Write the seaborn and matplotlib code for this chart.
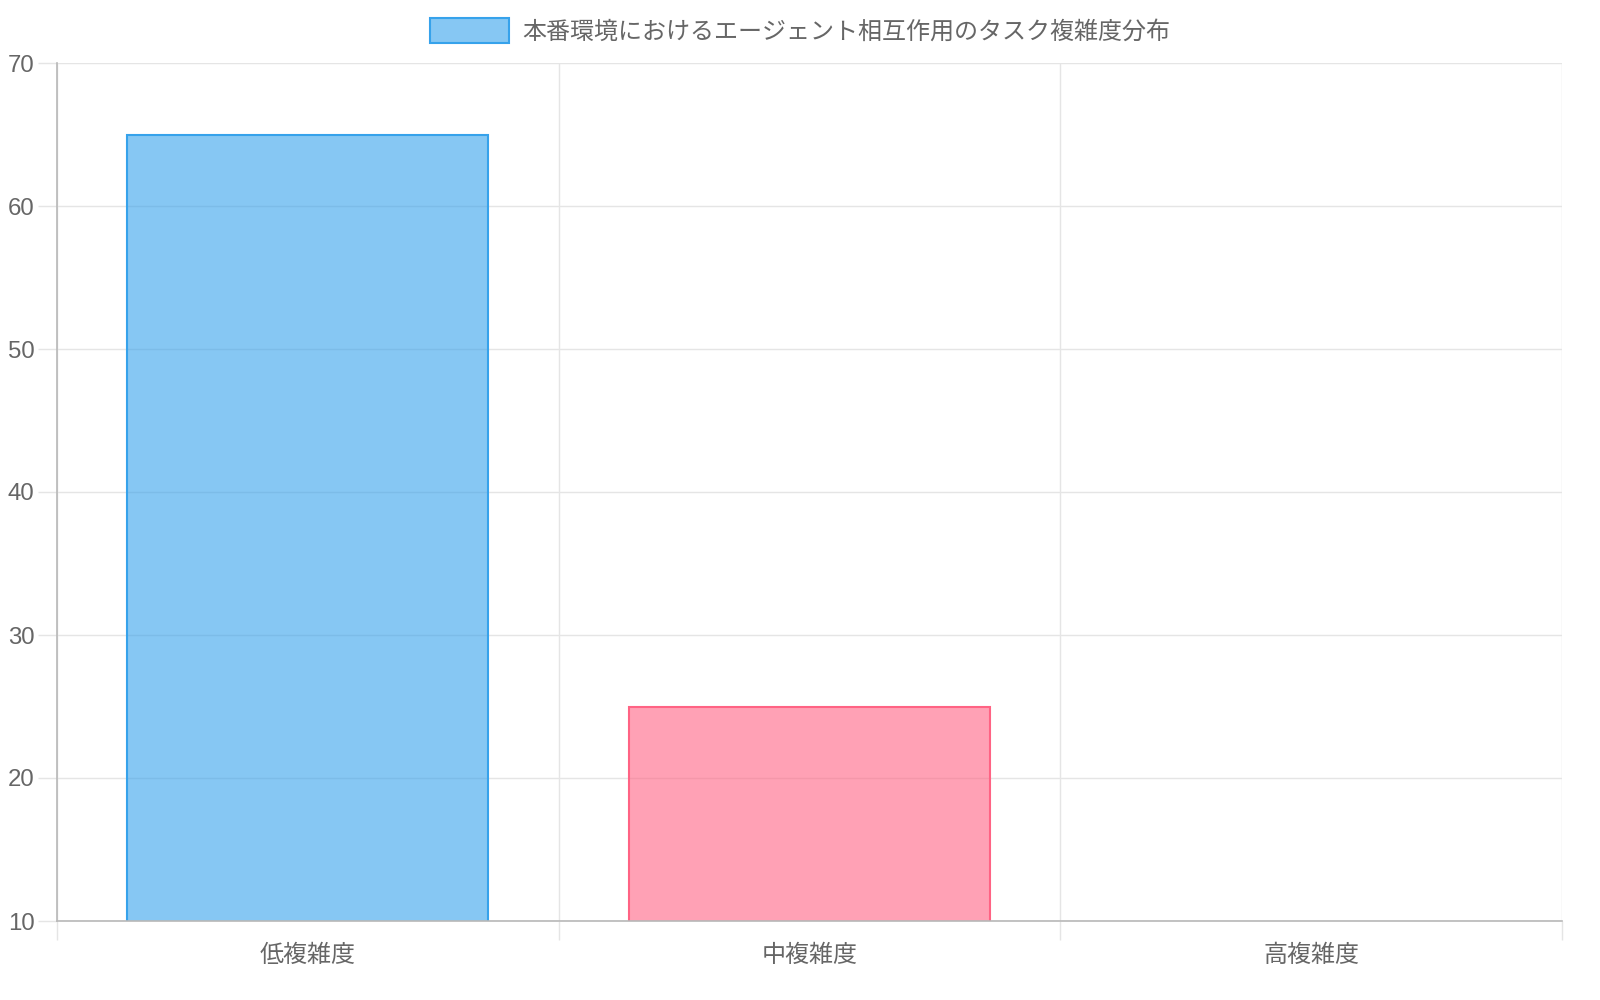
#!/usr/bin/env python3

import matplotlib
matplotlib.use('Agg')
import matplotlib.pyplot as plt
from matplotlib.patches import Patch
import seaborn as sns
import pandas as pd

#-----------
# DATA
#-----------
categories = ['低複雑度', '中複雑度', '高複雑度']
values = [65, 25, 10]
legend_label = '本番環境におけるエージェント相互作用のタスク複雑度分布'

# chart.js style colours (fill at 0.6 alpha, solid border)
FILLS = [(54/255, 162/255, 235/255, 0.6), (255/255, 99/255, 132/255, 0.6), (255/255, 206/255, 86/255, 0.6)]
EDGES = ['#36a2eb', '#ff6384', '#ffce56']

TEXT = '#666666'
GRID = '#e5e5e5'
AXIS = '#b8b8b8'
FS = 17.3

#-----------
# PLOT
#-----------
sns.set_theme(style='white')
plt.rcParams['font.family'] = ['Liberation Sans', 'Noto Sans CJK JP', 'DejaVu Sans']

df = pd.DataFrame({'category': categories, 'value': values})

fig = plt.figure(figsize=(16, 10), dpi=100)
ax = fig.add_axes([0.0356, 0.079, 0.9406, 0.858])

sns.barplot(data=df, x='category', y='value', hue='category', legend=False,
            width=0.72, ax=ax, palette=EDGES, saturation=1)

ax.set_ylim(10, 70)
ax.set_xlim(-0.5, 2.5)
ax.set_axisbelow(True)

# recolour to chart.js look: translucent fill, opaque border
for p, fc, ec in zip(ax.patches, FILLS, EDGES):
  p.set_facecolor(fc)
  p.set_edgecolor(ec)
  # a bar sitting on the axis minimum has no visible height
  p.set_linewidth(1.5 if p.get_height() > ax.get_ylim()[0] else 0)

# y axis
ax.set_yticks(range(10, 71, 10))
ax.tick_params(axis='y', left=True, length=14, width=1, color=GRID, pad=2, labelsize=FS, labelcolor=TEXT)
ax.yaxis.grid(True, color=GRID, linewidth=1)

# x axis: gridlines at category boundaries, labels at centres
ax.set_xticks([-0.5, 0.5, 1.5, 2.5])
ax.set_xticklabels([])
ax.set_xticks([0, 1, 2], minor=True)
ax.set_xticklabels(categories, minor=True)
ax.tick_params(axis='x', which='major', bottom=True, length=14, width=1, color=GRID)
ax.tick_params(axis='x', which='minor', bottom=True, length=0, pad=17, labelsize=FS, labelcolor=TEXT)
ax.xaxis.grid(True, which='major', color=GRID, linewidth=1)

ax.set_xlabel('')
ax.set_ylabel('')

for side in ['top', 'right']:
  ax.spines[side].set_visible(False)
for side in ['left', 'bottom']:
  ax.spines[side].set_color(AXIS)
  ax.spines[side].set_linewidth(1.2)

# legend shows only the first dataset colour, like chart.js
handle = Patch(facecolor=FILLS[0], edgecolor=EDGES[0], linewidth=1.5)
fig.legend([handle], [legend_label], loc='center', bbox_to_anchor=(0.5, 0.969),
           frameon=False, fontsize=FS, labelcolor=TEXT,
           handlelength=3.3, handleheight=1.2, handletextpad=0.55)

fig.savefig('out.png', dpi=100)
